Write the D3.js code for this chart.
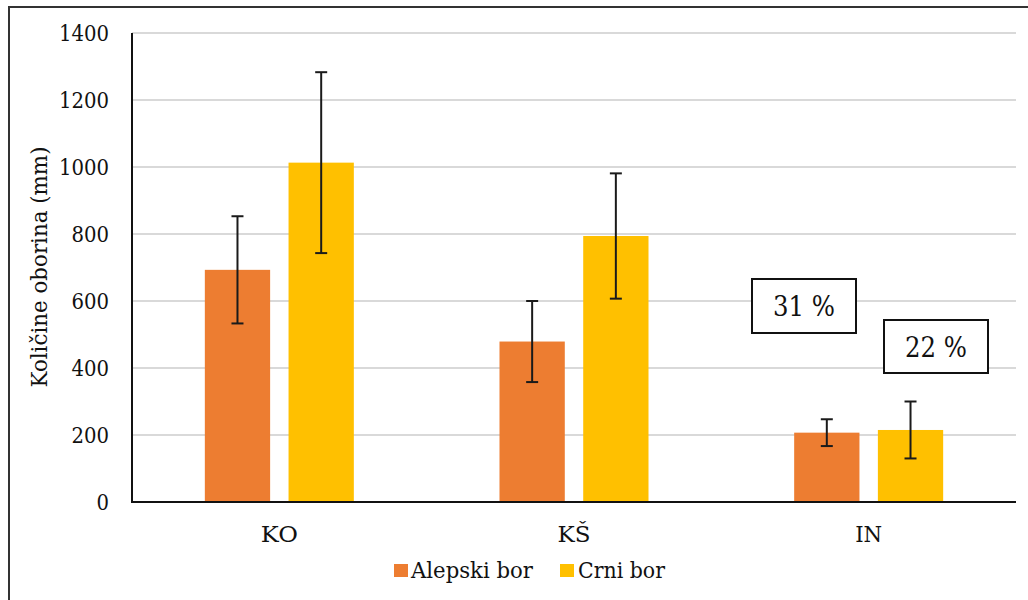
<!DOCTYPE html>
<html>
<head>
<meta charset="utf-8">
<script src="https://cdn.jsdelivr.net/npm/d3@7"></script>
<style>
  body { margin: 0; background: #fff; }
  svg { display: block; }
  svg text { font-family: 'DejaVu Serif', serif; fill: #111; }
</style>
</head>
<body>
<svg width="1028" height="600"></svg>
<script>
(function() {
	const categories = ['KO', 'KŠ', 'IN'];
	const seriesNames = ['Alepski bor', 'Crni bor'];
	const alepski = [693, 479, 207];
	const alepskiErr = [160, 121, 40];
	const crni = [1013, 794, 215];
	const crniErr = [270, 187, 85];
	const yTicks = [0, 200, 400, 600, 800, 1000, 1200, 1400];
	const callouts = ['31 %', '22 %'];

	const colors = { 'Alepski bor': '#ED7D31', 'Crni bor': '#FFC000' };

	// DejaVu Serif runs wider than Times, so squeeze labels to the widths seen in the picture
	const catWidth = { 'KO': 37, 'KŠ': 33, 'IN': 27 };
	const legendWidth = { 'Alepski bor': 122, 'Crni bor': 87 };

	const svg = d3.select('svg');

	// frame, only top and left edges are visible
	svg.append('line').attr('x1', 9).attr('x2', 1028).attr('y1', 7).attr('y2', 7)
		.attr('stroke', '#333').attr('stroke-width', 2);
	svg.append('line').attr('x1', 9).attr('x2', 9).attr('y1', 6).attr('y2', 600)
		.attr('stroke', '#333').attr('stroke-width', 2);

	const left = 132, right = 1016, top = 33, bottom = 502;

	const x0 = d3.scaleBand().domain(categories).range([left, right]);
	const step = x0.step();
	const x1 = d3.scaleBand().domain(seriesNames)
		.range([step / 2 - 74.5, step / 2 + 74.5])
		.paddingInner(0.22);
	const y = d3.scaleLinear().domain([0, 1400]).range([bottom, top]);

	// gridlines
	svg.append('g').selectAll('line').data(yTicks.slice(1)).join('line')
		.attr('x1', left).attr('x2', right)
		.attr('y1', d => y(d)).attr('y2', d => y(d))
		.attr('stroke', '#d9d9d9').attr('stroke-width', 2);

	// y tick labels
	svg.append('g').selectAll('text').data(yTicks).join('text')
		.attr('x', 109).attr('y', d => y(d) + 8)
		.attr('text-anchor', 'end')
		.attr('font-size', 23)
		.attr('textLength', d => String(d).length * 12.5)
		.attr('lengthAdjust', 'spacingAndGlyphs')
		.text(d => d);

	// y title
	svg.append('text')
		.attr('transform', 'translate(47, 267) rotate(-90)')
		.attr('text-anchor', 'middle')
		.attr('font-size', 23)
		.attr('textLength', 241)
		.attr('lengthAdjust', 'spacingAndGlyphs')
		.text('Količine oborina (mm)');

	const rows = categories.map((c, i) => ({
		cat: c,
		vals: [
			{ s: 'Alepski bor', v: alepski[i], e: alepskiErr[i] },
			{ s: 'Crni bor', v: crni[i], e: crniErr[i] }
		]
	}));

	const groups = svg.append('g').selectAll('g').data(rows).join('g')
		.attr('transform', d => `translate(${x0(d.cat)}, 0)`);

	groups.selectAll('rect').data(d => d.vals).join('rect')
		.attr('x', d => x1(d.s))
		.attr('width', x1.bandwidth())
		.attr('y', d => y(d.v))
		.attr('height', d => y(0) - y(d.v))
		.attr('fill', d => colors[d.s]);

	// error bars
	const err = groups.selectAll('g.err').data(d => d.vals).join('g').attr('class', 'err')
		.attr('stroke', '#1a1a1a').attr('stroke-width', 2);
	const cx = d => x1(d.s) + x1.bandwidth() / 2;
	err.append('line')
		.attr('x1', cx).attr('x2', cx)
		.attr('y1', d => y(d.v + d.e)).attr('y2', d => y(d.v - d.e));
	err.append('line')
		.attr('x1', d => cx(d) - 6).attr('x2', d => cx(d) + 6)
		.attr('y1', d => y(d.v + d.e)).attr('y2', d => y(d.v + d.e));
	err.append('line')
		.attr('x1', d => cx(d) - 6).attr('x2', d => cx(d) + 6)
		.attr('y1', d => y(d.v - d.e)).attr('y2', d => y(d.v - d.e));

	// axis lines
	svg.append('line').attr('x1', left).attr('x2', left).attr('y1', top).attr('y2', bottom)
		.attr('stroke', '#111').attr('stroke-width', 2);
	svg.append('line').attr('x1', left - 1).attr('x2', right).attr('y1', bottom).attr('y2', bottom)
		.attr('stroke', '#111').attr('stroke-width', 2);

	// category labels
	svg.append('g').selectAll('text').data(categories).join('text')
		.attr('x', d => x0(d) + step / 2).attr('y', 542)
		.attr('text-anchor', 'middle')
		.attr('font-size', 23)
		.attr('textLength', d => catWidth[d])
		.attr('lengthAdjust', 'spacingAndGlyphs')
		.text(d => d);

	// callout boxes
	const boxes = [
		{ t: callouts[0], x: 752, y: 279, w: 104, h: 54 },
		{ t: callouts[1], x: 884, y: 320, w: 104, h: 53 }
	];
	const cb = svg.append('g').selectAll('g').data(boxes).join('g');
	cb.append('rect')
		.attr('x', d => d.x).attr('y', d => d.y).attr('width', d => d.w).attr('height', d => d.h)
		.attr('fill', '#fff').attr('stroke', '#111').attr('stroke-width', 2);
	cb.append('text')
		.attr('x', d => d.x + d.w / 2).attr('y', d => d.y + d.h / 2 + 10)
		.attr('text-anchor', 'middle')
		.attr('font-size', 27)
		.attr('textLength', 62)
		.attr('lengthAdjust', 'spacingAndGlyphs')
		.text(d => d.t);

	// legend
	const legendPos = [{ sx: 394, tx: 411 }, { sx: 560, tx: 578 }];
	const lg = svg.append('g').selectAll('g').data(seriesNames).join('g');
	lg.append('rect')
		.attr('x', (d, i) => legendPos[i].sx).attr('y', 564)
		.attr('width', 14).attr('height', 13)
		.attr('fill', d => colors[d]);
	lg.append('text')
		.attr('x', (d, i) => legendPos[i].tx).attr('y', 578)
		.attr('font-size', 23)
		.attr('textLength', d => legendWidth[d])
		.attr('lengthAdjust', 'spacingAndGlyphs')
		.text(d => d);
})();
</script>
</body>
</html>
